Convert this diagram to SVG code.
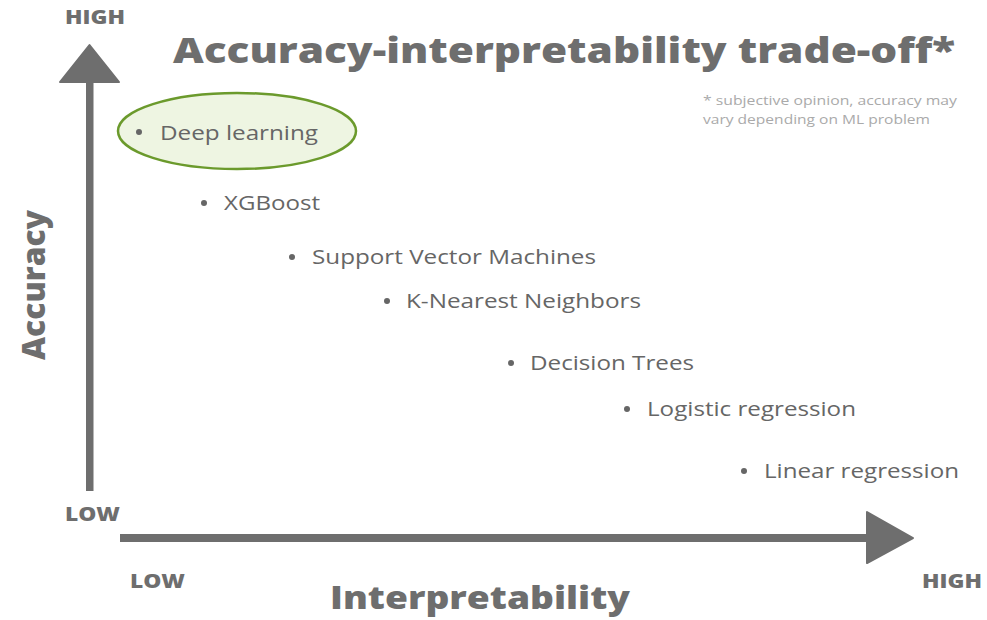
<svg xmlns="http://www.w3.org/2000/svg" width="987" height="620" viewBox="0 0 987 620">
  <style>
    .axis { fill: #6e6e6e; }
    .lbl { font-family: "Open Sans", "Liberation Sans", sans-serif; font-weight: 800; fill: #6e6e6e; }
    .item { font-family: "Open Sans", "Liberation Sans", sans-serif; font-size: 20px; fill: #666666; }
    .dot { fill: #666666; }
    .note { font-family: "Open Sans", "Liberation Sans", sans-serif; font-size: 12.5px; fill: #aaaaaa; }
  </style>
  <rect width="987" height="620" fill="#ffffff"/>

  <!-- axes -->
  <g id="axes">
    <rect class="axis" x="86" y="80" width="7.5" height="411"/>
    <polygon class="axis" points="89.5,45 119,82 60,82" stroke="#6e6e6e" stroke-width="2" stroke-linejoin="round"/>
    <rect class="axis" x="120" y="534" width="750" height="8"/>
    <polygon class="axis" points="867,512 913,538 867,563" stroke="#6e6e6e" stroke-width="2" stroke-linejoin="round"/>
  </g>

  <!-- axis labels and title -->
  <text class="lbl" x="65" y="24" font-size="19" textLength="60" lengthAdjust="spacingAndGlyphs">HIGH</text>
  <text class="lbl" x="65" y="521" font-size="19" textLength="55" lengthAdjust="spacingAndGlyphs">LOW</text>
  <text class="lbl" x="130" y="588" font-size="19" textLength="55" lengthAdjust="spacingAndGlyphs">LOW</text>
  <text class="lbl" x="922" y="588" font-size="19" textLength="60" lengthAdjust="spacingAndGlyphs">HIGH</text>
  <text class="lbl" x="330" y="609" font-size="32" textLength="300" lengthAdjust="spacingAndGlyphs">Interpretability</text>
  <text class="lbl" x="0" y="0" font-size="32" textLength="150" lengthAdjust="spacingAndGlyphs" transform="translate(45,360) rotate(-90)">Accuracy</text>
  <text class="lbl" x="173" y="63" font-size="35" textLength="782" lengthAdjust="spacingAndGlyphs">Accuracy-interpretability trade-off*</text>

  <text class="note" x="703" y="105" textLength="254" lengthAdjust="spacingAndGlyphs">*  subjective opinion, accuracy may</text>
  <text class="note" x="703" y="124" textLength="227" lengthAdjust="spacingAndGlyphs">vary depending on ML problem</text>

  <!-- models -->
  <g id="deep-learning">
    <ellipse cx="237" cy="131" rx="119" ry="38" fill="#eef5e2" stroke="#6b9a2c" stroke-width="2.5"/>
    <circle class="dot" cx="139" cy="132" r="3"/>
    <text class="item" x="160" y="140" fill="#727d68" textLength="158" lengthAdjust="spacingAndGlyphs">Deep learning</text>
  </g>
  <g id="xgboost">
    <circle class="dot" cx="204" cy="203" r="3"/>
    <text class="item" x="224" y="210" textLength="96" lengthAdjust="spacingAndGlyphs">XGBoost</text>
  </g>
  <g id="svm">
    <circle class="dot" cx="292" cy="257" r="3"/>
    <text class="item" x="312" y="264" textLength="284" lengthAdjust="spacingAndGlyphs">Support Vector Machines</text>
  </g>
  <g id="knn">
    <circle class="dot" cx="387" cy="301" r="3"/>
    <text class="item" x="406" y="308" textLength="235" lengthAdjust="spacingAndGlyphs">K-Nearest Neighbors</text>
  </g>
  <g id="decision-trees">
    <circle class="dot" cx="511" cy="363" r="3"/>
    <text class="item" x="530" y="370" textLength="164" lengthAdjust="spacingAndGlyphs">Decision Trees</text>
  </g>
  <g id="logistic-regression">
    <circle class="dot" cx="627" cy="409" r="3"/>
    <text class="item" x="647" y="416" textLength="209" lengthAdjust="spacingAndGlyphs">Logistic regression</text>
  </g>
  <g id="linear-regression">
    <circle class="dot" cx="744" cy="471" r="3"/>
    <text class="item" x="764" y="478" textLength="195" lengthAdjust="spacingAndGlyphs">Linear regression</text>
  </g>
</svg>
